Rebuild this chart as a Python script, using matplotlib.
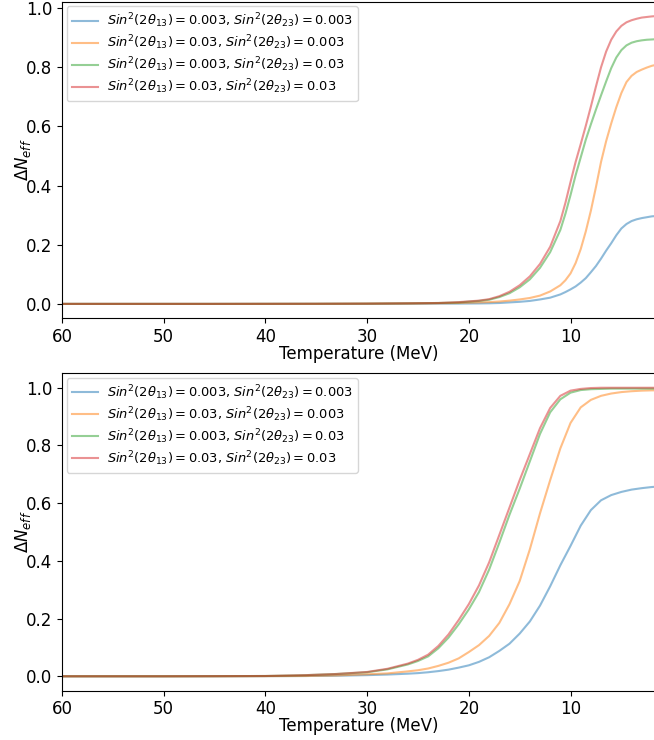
import numpy as np
import matplotlib
matplotlib.use("Agg")
import matplotlib.pyplot as plt

# Temperature grids (MeV) for the two scenarios
temp_a = [60, 45, 35, 30, 26, 23, 21, 19, 18, 17, 16, 15, 14, 13, 12, 11,
          10.5, 10, 9.5, 9, 8.5, 8, 7.5, 7, 6.5, 6, 5.5, 5, 4.5, 4, 3.5,
          3, 2.5, 2, 1.6]
temp_b = [60, 50, 45, 40, 36, 33, 30, 28, 26, 25, 24, 23, 22, 21, 20, 19,
          18, 17, 16, 15, 14, 13, 12, 11, 10, 9, 8, 7, 6, 5, 4, 3, 2, 1.6]

# Delta N_eff, upper panel
dn_a_003_003 = [0, 0, 0, 0, 0.0005, 0.001, 0.001, 0.0015, 0.002, 0.003,
                0.005, 0.007, 0.010, 0.015, 0.021, 0.032, 0.040, 0.049,
                0.059, 0.072, 0.087, 0.107, 0.128, 0.153, 0.180, 0.205,
                0.232, 0.255, 0.270, 0.280, 0.286, 0.290, 0.293, 0.296, 0.297]
dn_a_03_003 = [0, 0, 0, 0.0005, 0.001, 0.002, 0.003, 0.005, 0.006, 0.008,
               0.011, 0.015, 0.020, 0.028, 0.042, 0.063, 0.080, 0.103,
               0.138, 0.185, 0.245, 0.315, 0.395, 0.480, 0.550, 0.610,
               0.665, 0.713, 0.750, 0.771, 0.784, 0.792, 0.799, 0.805, 0.808]
dn_a_003_03 = [0, 0, 0.0005, 0.001, 0.002, 0.003, 0.005, 0.010, 0.014,
               0.023, 0.036, 0.056, 0.083, 0.122, 0.175, 0.250, 0.305,
               0.368, 0.435, 0.495, 0.555, 0.607, 0.657, 0.705, 0.752,
               0.797, 0.833, 0.858, 0.874, 0.883, 0.888, 0.891, 0.893,
               0.894, 0.895]
dn_a_03_03 = [0, 0, 0.0005, 0.001, 0.002, 0.003, 0.006, 0.011, 0.016,
              0.026, 0.041, 0.063, 0.093, 0.135, 0.193, 0.280, 0.342,
              0.412, 0.480, 0.540, 0.602, 0.667, 0.735, 0.800, 0.853,
              0.893, 0.921, 0.940, 0.952, 0.959, 0.964, 0.968, 0.970,
              0.972, 0.973]

# Delta N_eff, lower panel
dn_b_003_003 = [0, 0, 0, 0.0005, 0.001, 0.002, 0.004, 0.006, 0.009, 0.011,
                0.014, 0.018, 0.023, 0.030, 0.038, 0.050, 0.066, 0.088,
                0.113, 0.148, 0.190, 0.245, 0.312, 0.385, 0.452, 0.522,
                0.576, 0.610, 0.628, 0.639, 0.647, 0.652, 0.656, 0.657]
dn_b_03_003 = [0, 0, 0, 0.0005, 0.001, 0.003, 0.007, 0.010, 0.017, 0.021,
               0.027, 0.036, 0.047, 0.062, 0.084, 0.108, 0.140, 0.185,
               0.250, 0.330, 0.440, 0.565, 0.680, 0.790, 0.878, 0.932,
               0.958, 0.972, 0.980, 0.985, 0.988, 0.990, 0.991, 0.991]
dn_b_003_03 = [0, 0, 0.0005, 0.001, 0.004, 0.008, 0.014, 0.024, 0.041,
               0.053, 0.069, 0.097, 0.134, 0.180, 0.232, 0.292, 0.370,
               0.463, 0.560, 0.650, 0.745, 0.840, 0.915, 0.960, 0.983,
               0.992, 0.995, 0.996, 0.997, 0.997, 0.997, 0.997, 0.997, 0.997]
dn_b_03_03 = [0, 0, 0.0005, 0.001, 0.004, 0.008, 0.015, 0.026, 0.044,
              0.057, 0.075, 0.105, 0.145, 0.195, 0.250, 0.315, 0.395,
              0.490, 0.585, 0.680, 0.770, 0.860, 0.930, 0.972, 0.990,
              0.996, 0.999, 1.0, 1.0, 1.0, 1.0, 1.0, 1.0, 1.0]

labels = [
    r"$Sin^2(2\theta_{13})=0.003$, $Sin^2(2\theta_{23})=0.003$",
    r"$Sin^2(2\theta_{13})=0.03$, $Sin^2(2\theta_{23})=0.003$",
    r"$Sin^2(2\theta_{13})=0.003$, $Sin^2(2\theta_{23})=0.03$",
    r"$Sin^2(2\theta_{13})=0.03$, $Sin^2(2\theta_{23})=0.03$",
]

panels = [
    (temp_a, [dn_a_003_003, dn_a_03_003, dn_a_003_03, dn_a_03_03]),
    (temp_b, [dn_b_003_003, dn_b_03_003, dn_b_003_03, dn_b_03_03]),
]

fig = plt.figure(figsize=(6.54, 7.40), dpi=100)
ax_top = fig.add_axes([0.0948, 0.5699, 0.9082, 0.4278])
ax_bot = fig.add_axes([0.0948, 0.0666, 0.9082, 0.4289])

for ax, (temps, curves) in zip([ax_top, ax_bot], panels):
    for vals, lab in zip(curves, labels):
        ax.plot(temps, vals, alpha=0.5, lw=1.5, label=lab)
    ax.set_xlim(60, 1.6)
    ax.set_xticks([60, 50, 40, 30, 20, 10])
    ax.set_yticks(np.arange(0, 1.01, 0.2))
    ax.tick_params(labelsize=12)
    ax.set_xlabel("Temperature (MeV)", fontsize=12, labelpad=-1)
    ax.set_ylabel(r"$\Delta N_{eff}$", fontsize=12, labelpad=-5)
    ax.legend(loc="upper left", fontsize=9.4, labelspacing=0.25,
              borderaxespad=0.35, handletextpad=0.7)

fig.savefig("out.png", dpi=100)
